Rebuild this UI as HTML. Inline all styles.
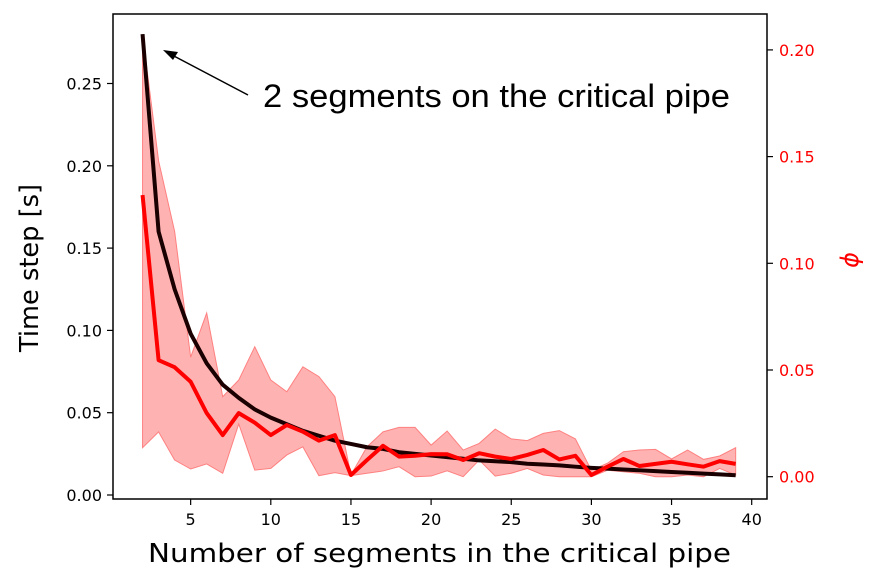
<!DOCTYPE html>
<html><head><meta charset="utf-8"><style>
body{margin:0;background:#fff;}
svg{display:block;font-family:"DejaVu Sans","Liberation Sans",sans-serif;}
</style></head><body>
<svg id="chart" width="886" height="583" xmlns="http://www.w3.org/2000/svg"></svg>
<script>
const segments=[2,3,4,5,6,7,8,9,10,11,12,13,14,15,16,17,18,19,20,21,22,23,24,25,26,27,28,29,30,31,32,33,34,35,36,37,38,39];
const timeStep=[0.28,0.16,0.125,0.098,0.08,0.067,0.059,0.052,0.047,0.043,0.039,0.036,0.033,0.031,0.029,0.028,0.026,0.025,0.024,0.023,0.022,0.021,0.0205,0.02,0.019,0.0185,0.018,0.0172,0.0165,0.016,0.0155,0.015,0.0145,0.014,0.0135,0.013,0.0125,0.012];
const phiMean=[0.132,0.0546,0.0513,0.0445,0.0298,0.0195,0.0298,0.0253,0.0195,0.0242,0.0211,0.0169,0.0195,0.0008,0.0078,0.0145,0.0094,0.0098,0.0106,0.0105,0.0078,0.011,0.0094,0.0083,0.0102,0.0125,0.0081,0.0098,0.0008,0.0047,0.0083,0.005,0.006,0.007,0.0058,0.0047,0.0073,0.006];
const phiUpper=[0.207,0.148,0.115,0.056,0.0767,0.0375,0.0453,0.0609,0.0453,0.0398,0.0515,0.0469,0.0375,0.0008,0.014,0.021,0.0231,0.0231,0.0148,0.0214,0.0125,0.0156,0.0223,0.0177,0.0169,0.0203,0.0216,0.0177,0.003,0.0063,0.0117,0.0125,0.0128,0.0083,0.0125,0.0081,0.0097,0.0136];
const phiLower=[0.0136,0.021,0.0078,0.0036,0.006,0.0016,0.0247,0.0031,0.0039,0.0102,0.014,0.0005,0.0019,0.0005,0.0016,0.0027,0.0047,0,0.0003,0.0028,0,0.0078,0.0003,0.0016,0.0039,0.0008,0,0,0,0.003,0.0023,0.0016,0,0,0.0008,0,0.0039,0.0008];
const xTicks=[5,10,15,20,25,30,35,40];
const yLeftTicks=[0,0.05,0.10,0.15,0.20,0.25];
const yRightTicks=[0,0.05,0.10,0.15,0.20];

const NS="http://www.w3.org/2000/svg";
const svg=document.getElementById('chart');
const X=v=>110.5+16.03*v;
const YL=v=>495-v*1646;
const YR=v=>476.7-v*2134;
function mk(t,a,txt){const e=document.createElementNS(NS,t);for(const k in a)e.setAttribute(k,a[k]);if(txt!==undefined)e.textContent=txt;svg.appendChild(e);return e;}

let pts=segments.map((s,i)=>X(s)+','+YR(phiUpper[i]));
for(let i=segments.length-1;i>=0;i--)pts.push(X(segments[i])+','+YR(phiLower[i]));
let band=mk('polygon',{points:pts.join(' '),fill:'#ff0000','fill-opacity':0.3,stroke:'#ff8080','stroke-width':1});



let bl=mk('polyline',{points:segments.map((s,i)=>X(s)+','+YL(timeStep[i])).join(' '),fill:'none',stroke:'#1a0000','stroke-width':4,'stroke-linejoin':'round'});



let rl=mk('polyline',{points:segments.map((s,i)=>X(s)+','+YR(phiMean[i])).join(' '),fill:'none',stroke:'#ff0000','stroke-width':4,'stroke-linejoin':'round'});



let fr=mk('rect',{x:113,y:14,width:654,height:485,fill:'none',stroke:'#000','stroke-width':1.5});



xTicks.forEach(t=>{
  mk('line',{x1:X(t),x2:X(t),y1:499,y2:505,stroke:'#000','stroke-width':1.2});
  let l=mk('text',{x:X(t),y:525,'text-anchor':'middle','font-size':16,fill:'#000'},String(t));
  
  
});
yLeftTicks.forEach(t=>{
  mk('line',{x1:107,x2:113,y1:YL(t),y2:YL(t),stroke:'#000','stroke-width':1.2});
  let l=mk('text',{x:102,y:YL(t)+6,'text-anchor':'end','font-size':16,fill:'#000'},t.toFixed(2));
  
  
});
yRightTicks.forEach(t=>{
  mk('line',{x1:767,x2:773,y1:YR(t),y2:YR(t),stroke:'#000','stroke-width':1.2});
  let l=mk('text',{x:779,y:YR(t)+6,'text-anchor':'start','font-size':16,fill:'#ff0000'},t.toFixed(2));
  
  
});
</script>
<svg style="position:absolute;left:0;top:0" width="886" height="583" xmlns="http://www.w3.org/2000/svg" font-family="DejaVu Sans, Liberation Sans, sans-serif">
<text x="148" y="562" font-size="26" fill="#000" textLength="583" lengthAdjust="spacingAndGlyphs">Number of segments in the critical pipe</text>
<text transform="translate(38,352) rotate(-90)" font-size="26" fill="#000" textLength="168" lengthAdjust="spacingAndGlyphs">Time step [s]</text>
<text transform="translate(858,260) rotate(-90)" text-anchor="middle" font-size="24" font-style="italic" fill="#ff0000">ϕ</text>
<g>
<line x1="248" y1="95" x2="172" y2="55" stroke="#000" stroke-width="1.5"/>
<polygon points="163,50 178,52 173,60" fill="#000"/>
<text x="263" y="107" font-family="Liberation Sans, sans-serif" font-size="32" fill="#000" textLength="467" lengthAdjust="spacingAndGlyphs">2 segments on the critical pipe</text>
</g>
</svg>
</body></html>
